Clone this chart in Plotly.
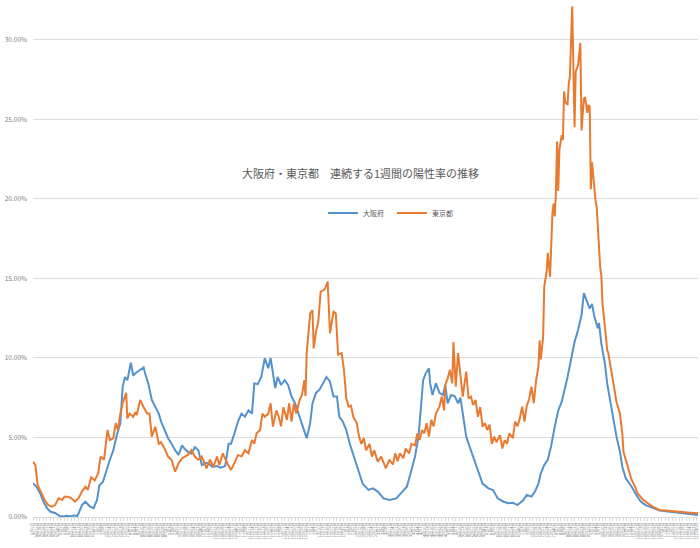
import pandas as pd
import plotly.graph_objects as go

start_date = "2020-05-09"

osaka_day = [0, 3, 6, 9, 12, 15, 19, 23, 26, 29, 32, 35, 38, 39, 42, 45, 49, 52, 55, 57, 60, 63, 66, 69, 72, 75, 77, 79, 81, 84, 86, 89, 92, 95, 96, 99, 102, 105, 108, 110, 113, 116, 119, 122, 125, 128, 130, 133, 136, 139, 142, 145, 149, 152, 154, 158, 161, 165, 168, 170, 173, 176, 179, 182, 185, 188, 190, 193, 196, 199, 202, 204, 208, 210, 213, 216, 219, 222, 225, 228, 232, 235, 238, 240, 243, 246, 249, 252, 255, 258, 261, 263, 266, 269, 272, 275, 278, 281, 283, 288, 292, 296, 301, 306, 312, 316, 321, 325, 328, 331, 333, 335, 337, 340, 341, 343, 346, 349, 352, 354, 356, 359, 362, 365, 367, 369, 372, 375, 378, 381, 384, 386, 391, 395, 399, 404, 408, 412, 416, 421, 424, 428, 431, 434, 436, 439, 442, 445, 448, 451, 454, 456, 459, 462, 465, 468, 471, 473, 475, 478, 480, 482, 485, 486, 488, 491, 493, 495, 498, 501, 504, 506, 509, 514, 518, 522, 526, 532, 538, 547, 555, 564, 571]
osaka_pct = [2.12, 1.9, 1.5, 0.96, 0.56, 0.33, 0.25, 0.05, 0.04, 0.08, 0.05, 0.1, 0.07, 0.2, 0.75, 0.96, 0.65, 0.55, 1.07, 2.0, 2.2, 2.96, 3.6, 4.2, 5.16, 5.9, 8.2, 8.8, 8.6, 9.7, 8.9, 9.1, 9.25, 9.4, 9.1, 8.4, 7.36, 6.9, 6.5, 6.0, 5.47, 4.95, 4.6, 4.2, 3.9, 4.5, 4.3, 4.1, 4.0, 4.4, 4.2, 3.27, 3.4, 3.3, 3.15, 3.2, 3.1, 3.2, 4.6, 4.6, 5.26, 6.0, 6.5, 6.3, 6.7, 6.5, 8.4, 8.35, 8.8, 9.98, 9.35, 10.0, 8.1, 8.8, 8.3, 8.6, 8.3, 7.57, 7.15, 6.5, 5.68, 4.95, 5.9, 7.15, 7.8, 8.0, 8.4, 8.8, 8.5, 7.57, 7.57, 6.3, 6.0, 5.47, 4.6, 3.9, 3.16, 2.5, 2.1, 1.7, 1.8, 1.6, 1.17, 1.07, 1.17, 1.5, 1.9, 2.96, 3.8, 5.05, 6.7, 8.6, 9.0, 9.35, 8.4, 7.67, 8.4, 7.8, 7.67, 8.3, 7.15, 7.67, 7.6, 7.15, 7.5, 6.5, 5.05, 4.4, 3.8, 3.16, 2.5, 2.1, 1.8, 1.7, 1.17, 0.96, 0.86, 0.9, 0.75, 1.07, 1.38, 1.28, 1.6, 2.1, 2.75, 3.27, 3.6, 4.5, 5.68, 6.7, 7.25, 7.8, 8.8, 9.9, 11.0, 11.76, 12.7, 14.07, 13.65, 13.1, 13.4, 12.6, 11.87, 12.2, 10.9, 9.67, 8.4, 7.57, 6.1, 5.05, 4.1, 3.16, 2.43, 1.9, 1.38, 0.96, 0.75, 0.55, 0.4, 0.33, 0.27, 0.19, 0.13]

tokyo_day = [0, 2, 4, 7, 10, 13, 16, 19, 22, 25, 27, 30, 33, 36, 39, 42, 45, 47, 50, 53, 56, 58, 61, 64, 66, 69, 71, 73, 75, 77, 80, 81, 83, 86, 88, 89, 92, 95, 98, 100, 102, 105, 108, 110, 113, 116, 119, 122, 125, 128, 130, 133, 136, 139, 142, 145, 149, 152, 155, 158, 160, 163, 166, 170, 173, 176, 179, 182, 185, 188, 190, 192, 195, 197, 199, 202, 204, 206, 209, 211, 213, 215, 218, 220, 222, 224, 226, 229, 231, 233, 234, 235, 238, 240, 241, 243, 245, 247, 250, 251, 253, 255, 258, 260, 262, 265, 267, 269, 271, 273, 275, 278, 280, 282, 284, 286, 289, 291, 293, 296, 299, 301, 303, 306, 309, 311, 313, 315, 318, 320, 323, 325, 328, 330, 332, 334, 336, 338, 340, 342, 344, 346, 349, 351, 353, 354, 356, 358, 360, 361, 363, 365, 367, 369, 372, 374, 376, 378, 380, 382, 384, 386, 388, 390, 392, 394, 396, 398, 401, 403, 405, 407, 409, 412, 414, 416, 418, 420, 422, 424, 426, 428, 430, 432, 434, 435, 436, 438, 439, 441, 442, 444, 446, 447, 448, 449, 450, 451, 452, 454, 455, 456, 457, 459, 460, 461, 463, 465, 466, 468, 470, 471, 473, 474, 476, 477, 478, 479, 480, 481, 483, 484, 486, 487, 488, 489, 492, 493, 494, 497, 499, 501, 504, 506, 507, 509, 511, 514, 517, 519, 524, 528, 532, 538, 547, 555, 564, 571]
tokyo_pct = [3.48, 3.27, 2.0, 1.5, 1.07, 0.75, 0.65, 0.75, 1.17, 1.07, 1.28, 1.28, 1.17, 0.96, 1.17, 1.6, 1.9, 1.7, 2.5, 2.3, 2.75, 3.8, 3.6, 5.47, 4.84, 4.95, 5.9, 5.47, 6.5, 7.15, 7.8, 6.2, 6.5, 6.3, 6.6, 6.4, 7.36, 6.9, 6.5, 6.5, 5.05, 5.68, 4.6, 4.7, 4.3, 3.8, 3.6, 2.85, 3.38, 3.7, 3.8, 3.9, 4.2, 3.8, 3.6, 3.8, 3.06, 3.6, 3.16, 3.8, 3.27, 4.0, 3.5, 2.96, 3.4, 3.9, 3.8, 4.2, 4.0, 4.84, 4.6, 5.26, 5.47, 6.5, 6.3, 6.5, 7.15, 5.68, 6.7, 6.3, 5.7, 6.9, 6.1, 7.15, 6.0, 7.15, 6.5, 7.36, 7.67, 8.6, 7.6, 10.3, 12.8, 13.0, 10.6, 11.65, 12.3, 14.17, 14.28, 14.4, 14.8, 11.55, 12.9, 12.8, 10.2, 10.3, 9.25, 7.46, 6.94, 7.0, 6.3, 5.9, 5.05, 4.6, 4.95, 4.2, 4.6, 3.8, 4.2, 3.48, 3.8, 3.48, 3.06, 3.6, 3.3, 4.0, 3.5, 4.0, 3.7, 4.3, 4.0, 4.6, 4.5, 5.26, 4.84, 5.47, 5.26, 5.9, 5.05, 6.1, 5.7, 6.5, 6.94, 7.57, 6.7, 8.3, 8.7, 9.25, 8.4, 11.0, 8.2, 10.3, 8.7, 7.57, 9.14, 7.46, 7.57, 7.04, 7.36, 6.3, 6.9, 5.68, 5.9, 5.47, 5.8, 4.6, 5.05, 4.7, 5.15, 4.3, 4.84, 4.6, 5.26, 4.95, 6.0, 5.7, 6.2, 6.94, 6.0, 7.0, 7.4, 8.2, 7.15, 8.6, 9.45, 11.1, 9.9, 11.3, 14.5, 15.4, 16.6, 15.1, 19.1, 19.7, 18.9, 20.4, 23.6, 20.5, 23.1, 24.0, 23.7, 26.75, 26.1, 25.9, 27.2, 27.7, 32.1, 24.5, 28.0, 28.4, 29.8, 24.3, 26.3, 26.4, 25.4, 25.9, 25.8, 20.6, 22.3, 21.4, 19.9, 19.5, 16.4, 15.7, 15.2, 13.4, 11.3, 10.5, 10.3, 9.0, 8.0, 7.25, 6.5, 5.26, 4.1, 3.6, 3.06, 2.33, 1.9, 1.5, 1.07, 0.86, 0.65, 0.44, 0.4, 0.33, 0.27, 0.23]

y_ticks = [0, 0.05, 0.10, 0.15, 0.20, 0.25, 0.30]
title_text = "大阪府・東京都　連続する1週間の陽性率の推移"
series_names = ["大阪府", "東京都"]
series_colors = ["#5592cc", "#e97a30"]

t0 = pd.Timestamp(start_date)
osaka_x = [t0 + pd.Timedelta(days=d) for d in osaka_day]
tokyo_x = [t0 + pd.Timedelta(days=d) for d in tokyo_day]
last_day = max(osaka_day[-1], tokyo_day[-1])

fig = go.Figure()
fig.add_trace(go.Scatter(x=osaka_x, y=[v / 100 for v in osaka_pct], mode="lines",
                         name=series_names[0], line=dict(color=series_colors[0], width=2)))
fig.add_trace(go.Scatter(x=tokyo_x, y=[v / 100 for v in tokyo_pct], mode="lines",
                         name=series_names[1], line=dict(color=series_colors[1], width=2)))

font_family = "Noto Sans CJK JP, Noto Sans, sans-serif"
fig.update_layout(
    width=700, height=548,
    margin=dict(l=33, r=2, t=0, b=31, autoexpand=False),
    paper_bgcolor="white", plot_bgcolor="white",
    font=dict(family=font_family, color="#7f7f7f"),
    showlegend=True,
    legend=dict(orientation="h", x=0.436, y=0.588, xanchor="left", yanchor="middle",
                font=dict(size=7, color="#595959"), entrywidth=24,
                bgcolor="rgba(0,0,0,0)"),
    annotations=[dict(text=title_text, xref="paper", yref="paper", x=0.493, y=0.665,
                      showarrow=False, font=dict(size=11, color="#595959"))],
)
fig.update_yaxes(range=[0, 0.325], tickvals=y_ticks, tickformat=".2%", automargin=False,
                 showgrid=True, gridcolor="#dcdcdc", gridwidth=1, zeroline=False,
                 tickfont=dict(size=6.5, color="#808080"), ticklabelstandoff=5, ticks="")
fig.update_xaxes(type="date", automargin=False,
                 range=[t0, t0 + pd.Timedelta(days=last_day)],
                 tick0=t0, dtick=3 * 86400000, tickformat="%-m月%-d日",
                 tickangle=-90, tickfont=dict(size=4, color="#808080"),
                 showgrid=False, showline=True, linecolor="#d9d9d9", linewidth=1,
                 ticks="outside", ticklen=3, tickcolor="#d9d9d9")

fig.write_html("out.html", config={"displayModeBar": False},
               post_script="document.body.style.margin='0';")
